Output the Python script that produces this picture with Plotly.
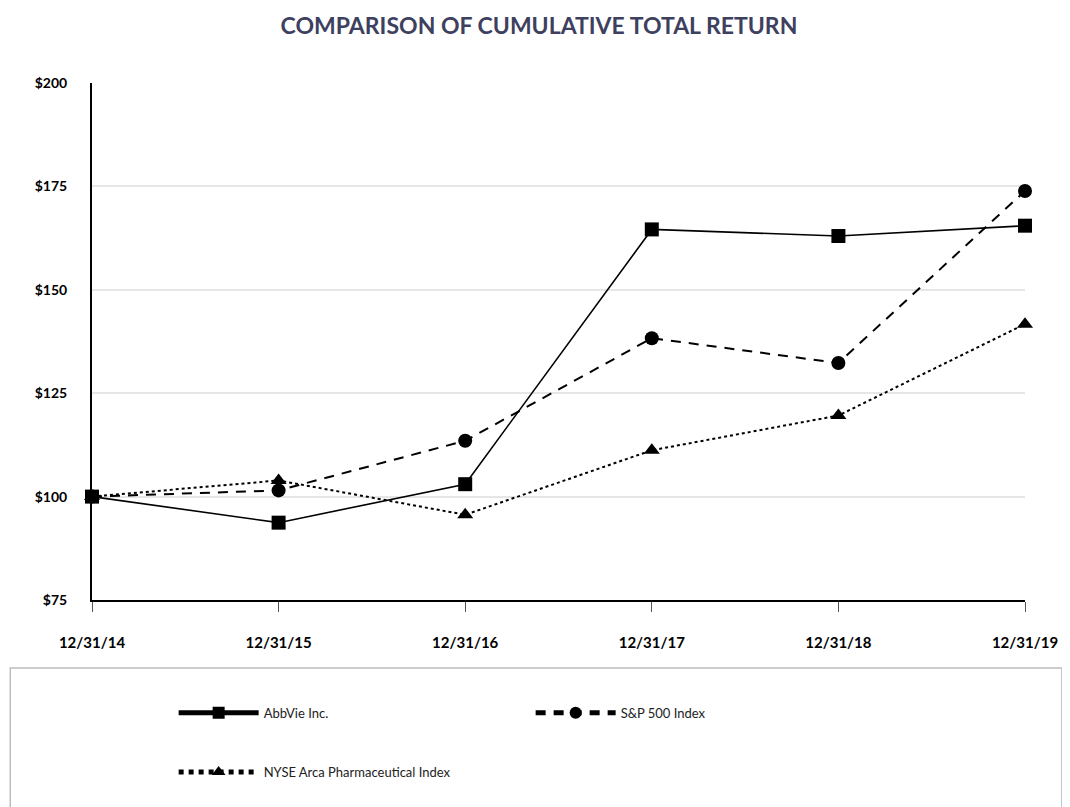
import plotly.graph_objects as go

dates = ["12/31/14", "12/31/15", "12/31/16", "12/31/17", "12/31/18", "12/31/19"]
abbvie = [100, 93.7, 103.0, 164.6, 163.0, 165.5]
sp500 = [100, 101.5, 113.5, 138.3, 132.3, 173.9]
nyse_pharma = [100, 103.9, 95.6, 111.2, 119.6, 141.7]
y_ticks = [75, 100, 125, 150, 175, 200]
y_labels = ["$75", "$100", "$125", "$150", "$175", "$200"]

FONT = "Lato"

fig = go.Figure()
fig.add_trace(go.Scatter(
    x=dates, y=abbvie, name="AbbVie Inc.", mode="lines+markers",
    line=dict(color="black", width=1.6, dash="solid"),
    marker=dict(symbol="square", size=14, color="black"),
    cliponaxis=False, legend="legend"))
fig.add_trace(go.Scatter(
    x=dates, y=sp500, name="S&P 500 Index", mode="lines+markers",
    line=dict(color="black", width=2, dash="10px,8px"),
    marker=dict(symbol="circle", size=14, color="black"),
    cliponaxis=False, legend="legend"))
fig.add_trace(go.Scatter(
    x=dates, y=nyse_pharma, name="NYSE Arca Pharmaceutical Index", mode="lines+markers",
    line=dict(color="black", width=2, dash="dot"),
    marker=dict(symbol="triangle-up", size=14, color="black"),
    cliponaxis=False, legend="legend2"))

fig.update_layout(
    width=1062, height=799,
    margin=dict(l=84, r=42, t=75, b=207),
    paper_bgcolor="white", plot_bgcolor="white",
    font=dict(family=FONT, color="black", size=13),
    title=dict(text="<b>COMPARISON OF CUMULATIVE TOTAL RETURN</b>",
               x=0.5, xanchor="center", y=0.988, yanchor="top",
               font=dict(family=FONT, size=23, color="#3d405e")),
    showlegend=True,
    legend=dict(orientation="h", x=0.0875, y=-0.218, xanchor="left", yanchor="middle",
                entrywidth=262, entrywidthmode="pixels",
                font=dict(family=FONT, size=13, color="#222"),
                bgcolor="rgba(0,0,0,0)", itemwidth=80, itemsizing="constant"),
    legend2=dict(orientation="h", x=0.0875, y=-0.333, xanchor="left", yanchor="middle",
                 font=dict(family=FONT, size=13, color="#222"),
                 bgcolor="rgba(0,0,0,0)", itemwidth=80, itemsizing="constant"),
)

fig.update_xaxes(
    type="category", range=[0, 5], showgrid=False,
    showline=True, linecolor="black", linewidth=2,
    ticks="outside", ticklen=10, tickcolor="#555", tickwidth=1,
    ticklabelstandoff=18,
    tickfont=dict(family=FONT, size=15, color="black", weight="bold"),
    zeroline=False)
fig.update_yaxes(
    range=[75, 200], tickvals=y_ticks, ticktext=y_labels,
    showgrid=True, gridcolor="#e6e6e6", gridwidth=1.5,
    showline=True, linecolor="black", linewidth=2,
    ticks="", ticklabelstandoff=20,
    tickfont=dict(family=FONT, size=14, color="black", weight="bold"),
    zeroline=False)

fig.add_shape(type="rect", xref="paper", yref="paper",
              x0=(10 - 92) / 936, x1=(1065 - 92) / 936,
              y0=(600 - 668) / 517, y1=(600 - 815) / 517,
              line=dict(color="#bdbdbd", width=1.5), fillcolor="rgba(0,0,0,0)")

fig.write_html("out.html")
